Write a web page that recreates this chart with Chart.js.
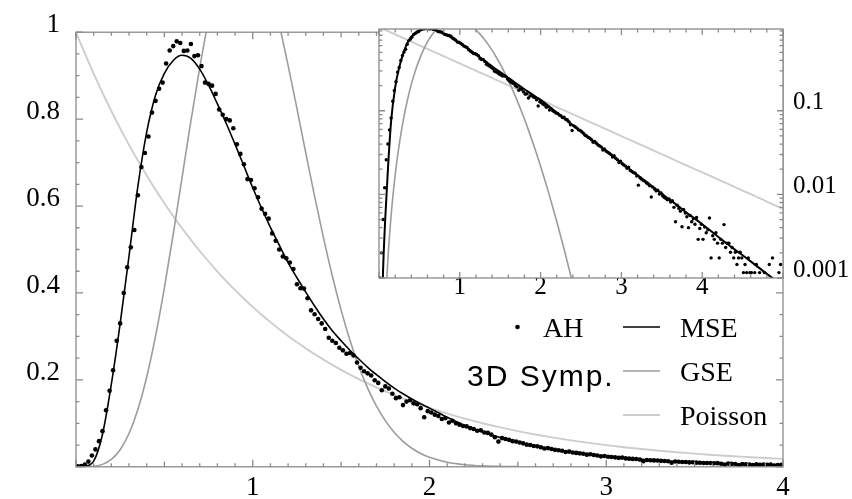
<!DOCTYPE html>
<html>
<head>
<meta charset="utf-8">
<script src="https://cdn.jsdelivr.net/npm/chart.js@4/dist/chart.umd.min.js"></script>
<style>
  html, body { margin: 0; padding: 0; background: #fff; }
  #wrap { position: relative; width: 852px; height: 499px; }
  #wrap canvas { position: absolute; left: 0; top: 0; }
</style>
</head>
<body>
<div id="wrap">
  <canvas id="mainChart" width="852" height="499"></canvas>
  <canvas id="insetChart" width="852" height="499"></canvas>
</div>
<script>
// level spacing s for the smooth curves
const curveX = [0, 0.03, 0.05, 0.1, 0.15, 0.2, 0.25, 0.3, 0.35, 0.4, 0.45, 0.5, 0.55, 0.6, 0.65, 0.7, 0.75, 0.8, 0.85, 0.9, 0.95,
  1.0, 1.05, 1.1, 1.15, 1.2, 1.25, 1.3, 1.35, 1.4, 1.45, 1.5, 1.55, 1.6, 1.65, 1.7, 1.75, 1.8, 1.85, 1.9, 1.95, 2.0,
  2.1, 2.2, 2.3, 2.4, 2.5, 2.6, 2.7, 2.8, 2.9, 3.0, 3.1, 3.2, 3.3, 3.4, 3.5, 3.6, 3.7, 3.8, 3.9, 4.0,
  4.1, 4.2, 4.3, 4.4, 4.5, 4.6, 4.7, 4.8, 4.9, 5.0];

const mseY = [0, 0.0002, 0.0012, 0.013, 0.075, 0.19, 0.33, 0.485, 0.645, 0.77, 0.855, 0.905, 0.935, 0.947, 0.94, 0.915, 0.878, 0.835, 0.79, 0.742, 0.692,
  0.642, 0.595, 0.551, 0.51, 0.47, 0.435, 0.402, 0.37, 0.34, 0.313, 0.29, 0.268, 0.248, 0.229, 0.212, 0.196, 0.181, 0.168, 0.156, 0.145, 0.135,
  0.114, 0.095, 0.08, 0.0672, 0.0565, 0.0475, 0.04, 0.0336, 0.0283, 0.0238, 0.0201, 0.017, 0.0143, 0.0121, 0.0102, 0.0086, 0.0073, 0.0061, 0.0052, 0.0044,
  0.0037, 0.0031, 0.0026, 0.0022, 0.00187, 0.00158, 0.00133, 0.00112, 0.00095, 0.0008];

const gseY = [null, null, 0.000072, 0.00113, 0.00558, 0.01695, 0.03932, 0.07662, 0.13189, 0.20668, 0.3007, 0.41159, 0.53509, 0.66538, 0.79556, 0.91845, 1.02724, 1.1158, 1.17969, 1.21642, 1.22476,
  1.2061, 1.16195, 1.0974, 1.0166, 0.9237, 0.82419, 0.7224, 0.6224, 0.5274, 0.43965, 0.3605, 0.29105, 0.2313, 0.18111, 0.1397, 0.10616, 0.07953, 0.05868, 0.04274, 0.03065, 0.0217,
  0.01042, 0.00474, 0.00205, 0.00084, 0.000325, null, null, null, null, null, null, null, null, null, null, null, null, null, null, null,
  null, null, null, null, null, null, null, null, null, null];

const poissonY = [1, 0.9704, 0.9512, 0.9048, 0.8607, 0.8187, 0.7788, 0.7408, 0.7047, 0.6703, 0.6376, 0.6065, 0.5769, 0.5488, 0.522, 0.4966, 0.4724, 0.4493, 0.4274, 0.4066, 0.3867,
  0.3679, 0.3499, 0.3329, 0.3166, 0.3012, 0.2865, 0.2725, 0.2592, 0.2466, 0.2346, 0.2231, 0.2122, 0.2019, 0.192, 0.1827, 0.1738, 0.1653, 0.1572, 0.1496, 0.1423, 0.1353,
  0.1225, 0.1108, 0.1003, 0.0907, 0.0821, 0.0743, 0.0672, 0.0608, 0.055, 0.0498, 0.045, 0.0408, 0.0369, 0.0334, 0.0302, 0.0273, 0.0247, 0.0224, 0.0202, 0.0183,
  0.0166, 0.015, 0.0136, 0.0123, 0.0111, 0.0101, 0.0091, 0.0082, 0.0074, 0.0067];

// Anderson Hamiltonian histogram (bin centres / heights)
const ahX = [
  0.01, 0.03, 0.05, 0.07, 0.09, 0.11, 0.13, 0.15, 0.17, 0.19,
  0.21, 0.23, 0.25, 0.27, 0.29, 0.31, 0.33, 0.35, 0.37, 0.39,
  0.41, 0.43, 0.45, 0.47, 0.49, 0.51, 0.53, 0.55, 0.57, 0.59,
  0.61, 0.63, 0.65, 0.67, 0.69, 0.71, 0.73, 0.75, 0.77, 0.79,
  0.81, 0.83, 0.85, 0.87, 0.89, 0.91, 0.93, 0.95, 0.97, 0.99,
  1.01, 1.03, 1.05, 1.07, 1.09, 1.11, 1.13, 1.15, 1.17, 1.19,
  1.21, 1.23, 1.25, 1.27, 1.29, 1.31, 1.33, 1.35, 1.37, 1.39,
  1.41, 1.43, 1.45, 1.47, 1.49, 1.51, 1.53, 1.55, 1.57, 1.59,
  1.61, 1.63, 1.65, 1.67, 1.69, 1.71, 1.73, 1.75, 1.77, 1.79,
  1.81, 1.83, 1.85, 1.87, 1.89, 1.91, 1.93, 1.95, 1.97, 1.99,
  2.01, 2.03, 2.05, 2.07, 2.09, 2.11, 2.13, 2.15, 2.17, 2.19,
  2.21, 2.23, 2.25, 2.27, 2.29, 2.31, 2.33, 2.35, 2.37, 2.39,
  2.41, 2.43, 2.45, 2.47, 2.49, 2.51, 2.53, 2.55, 2.57, 2.59,
  2.61, 2.63, 2.65, 2.67, 2.69, 2.71, 2.73, 2.75, 2.77, 2.79,
  2.81, 2.83, 2.85, 2.87, 2.89, 2.91, 2.93, 2.95, 2.97, 2.99,
  3.01, 3.03, 3.05, 3.07, 3.09, 3.11, 3.13, 3.15, 3.17, 3.19,
  3.21, 3.23, 3.25, 3.27, 3.29, 3.31, 3.33, 3.35, 3.37, 3.39,
  3.41, 3.43, 3.45, 3.47, 3.49, 3.51, 3.53, 3.55, 3.57, 3.59,
  3.61, 3.63, 3.65, 3.67, 3.69, 3.71, 3.73, 3.75, 3.77, 3.79,
  3.81, 3.83, 3.85, 3.87, 3.89, 3.91, 3.93, 3.95, 3.97, 3.99,
  4.01, 4.03, 4.05, 4.07, 4.09, 4.11, 4.13, 4.15, 4.17, 4.19,
  4.21, 4.23, 4.25, 4.27, 4.29, 4.31, 4.33, 4.35, 4.37, 4.39,
  4.41, 4.43, 4.45, 4.47, 4.49, 4.51, 4.53, 4.55, 4.57, 4.59,
  4.61, 4.63, 4.65, 4.67, 4.69, 4.71, 4.73, 4.75, 4.77, 4.79,
  4.81, 4.83, 4.85, 4.87, 4.89, 4.91, 4.93, 4.95, 4.97, 4.99];

const ahY = [
  0.001, 0.002, 0.005, 0.012, 0.026, 0.04, 0.059, 0.082, 0.13, 0.175,
  0.222, 0.29, 0.33, 0.40, 0.459, 0.505, 0.545, 0.625, 0.69, 0.722,
  0.76, 0.815, 0.842, 0.87, 0.884, 0.928, 0.958, 0.968, 0.979, 0.975,
  0.957, 0.958, 0.973, 0.945, 0.947, 0.922, 0.884, 0.881, 0.877, 0.858,
  0.822, 0.81, 0.80, 0.797, 0.779, 0.742, 0.72, 0.696, 0.662, 0.66,
  0.641, 0.62, 0.594, 0.582, 0.571, 0.537, 0.52, 0.50, 0.484, 0.48,
  0.47, 0.455, 0.42, 0.411, 0.41, 0.388, 0.36, 0.351, 0.34, 0.33,
  0.317, 0.297, 0.29, 0.285, 0.274, 0.268, 0.26, 0.262, 0.256, 0.24,
  0.228, 0.22, 0.215, 0.21, 0.199, 0.193, 0.176, 0.185, 0.18, 0.168,
  0.158, 0.16, 0.142, 0.15, 0.153, 0.146, 0.144, 0.135, 0.114, 0.128,
  0.125, 0.12, 0.117, 0.11, 0.112, 0.102, 0.106, 0.1, 0.097, 0.094,
  0.093, 0.089, 0.087, 0.083, 0.084, 0.079, 0.078, 0.074, 0.068, 0.058,
  0.066, 0.064, 0.062, 0.059, 0.058, 0.056, 0.054, 0.051, 0.05, 0.048,
  0.047, 0.045, 0.042, 0.043, 0.041, 0.039, 0.038, 0.037, 0.034, 0.035,
  0.033, 0.032, 0.031, 0.030, 0.028, 0.029, 0.027, 0.026, 0.024, 0.025,
  0.0232, 0.0225, 0.0218, 0.0205, 0.0212, 0.0193, 0.0188, 0.0182, 0.0179, 0.0166,
  0.0129, 0.0158, 0.0152, 0.0147, 0.0144, 0.0137, 0.0133, 0.0127, 0.0093, 0.0122,
  0.0116, 0.011, 0.0112, 0.0101, 0.0104, 0.0096, 0.0092, 0.0089, 0.0086, 0.0088,
  0.0081, 0.0084, 0.007, 0.0047, 0.0074, 0.0068, 0.0063, 0.0041, 0.0066, 0.006,
  0.0054, 0.004, 0.0056, 0.0047, 0.0051, 0.0044, 0.0053, 0.0029, 0.0039, 0.0044,
  0.0029, 0.00406, 0.00348, 0.00377, 0.00522, 0.00174, 0.0032, 0.0029, 0.00348, 0.00261,
  0.00174, 0.0029, 0.00261, 0.00435, 0.00232, 0.00261, 0.00261, 0.00203, 0.00232, 0.00174,
  0.00203, 0.00145, 0.00174, 0.00203, 0.00174, 0.00116, 0.00145, 0.00116, 0.00174, 0.00116,
  0.00116, 0.00087, 0.00116, 0.00145, 0.00087, 0.00116, 0.00058, 0.00087, 0.00116, 0.00087,
  0.00058, 0.00145, 0.00087, 0.00174, 0.00058, 0.00087, 0.00058, 0.00116, 0.00145, 0.00087];

const seriesNames = ["AH", "MSE", "GSE", "Poisson"];
const systemLabel = "3D Symp.";

const mainXTicks = [1, 2, 3, 4];
const mainYTicks = [0.2, 0.4, 0.6, 0.8, 1];
const insetXTicks = [1, 2, 3, 4];
const insetYTicks = [0.001, 0.01, 0.1];

const serifFont = "'Liberation Serif', 'Times New Roman', serif";
const frameGray = '#8a8a8a';

const toPts = (xs, ys, logOnly) => xs.map((x, i) => {
  let y = ys[i];
  if (logOnly && !(y > 0)) y = null;
  return { x: x, y: y };
});

// inward tick marks + frame (Mathematica style)
const frameTicks = {
  id: 'frameTicks',
  beforeDraw(chart, args, opts) {
    if (!opts.fillArea) return;
    const a = chart.chartArea;
    chart.ctx.save();
    chart.ctx.fillStyle = '#fff';
    chart.ctx.fillRect(a.left, a.top, a.right - a.left, a.bottom - a.top);
    chart.ctx.restore();
  },
  afterDraw(chart, args, opts) {
    const ctx = chart.ctx, a = chart.chartArea;
    const xs = chart.scales.x, ys = chart.scales.y;
    ctx.save();
    ctx.strokeStyle = frameGray;
    ctx.lineWidth = 1.3;
    ctx.beginPath();
    opts.xMarks.forEach(m => {
      const px = xs.getPixelForValue(m[0]);
      ctx.moveTo(px, a.bottom); ctx.lineTo(px, a.bottom - m[1]);
      ctx.moveTo(px, a.top); ctx.lineTo(px, a.top + m[1]);
    });
    opts.yMarks.forEach(m => {
      const py = ys.getPixelForValue(m[0]);
      ctx.moveTo(a.left, py); ctx.lineTo(a.left + m[1], py);
      ctx.moveTo(a.right, py); ctx.lineTo(a.right - m[1], py);
    });
    ctx.stroke();
    ctx.strokeRect(a.left, a.top, a.right - a.left, a.bottom - a.top);
    ctx.restore();
  }
};

const cornerLegend = {
  id: 'cornerLegend',
  afterDraw(chart) {
    const ctx = chart.ctx, ds = chart.data.datasets;
    ctx.save();
    ctx.fillStyle = '#000';
    ctx.textAlign = 'left';
    ctx.textBaseline = 'alphabetic';
    ctx.font = "28px " + serifFont;
    ctx.beginPath();
    ctx.arc(517.5, 327, 2.3, 0, Math.PI * 2);
    ctx.fill();
    ctx.fillText(ds[0].label, 543, 337);
    [[1, 327, 337], [2, 371, 380.5], [3, 415, 425]].forEach(r => {
      const d = ds[r[0]];
      ctx.strokeStyle = d.borderColor;
      ctx.lineWidth = d.borderWidth;
      ctx.beginPath();
      ctx.moveTo(623, r[1]); ctx.lineTo(660, r[1]);
      ctx.stroke();
      ctx.fillText(d.label, 680, r[2]);
    });
    ctx.font = "30px 'Liberation Sans', Arial, sans-serif";
    ctx.letterSpacing = '2px';
    ctx.fillText(systemLabel, 467, 385.5);
    ctx.letterSpacing = '0px';
    ctx.restore();
  }
};

function lineSet(name, ys, color, width, order, logOnly) {
  return {
    label: name, data: toPts(curveX, ys, logOnly), showLine: true,
    borderColor: color, borderWidth: width, pointRadius: 0,
    cubicInterpolationMode: 'monotone', order: order
  };
}

function buildSets(dotRadius, lineW, logOnly) {
  return [
    { label: seriesNames[0], data: toPts(ahX, ahY, logOnly), pointRadius: dotRadius,
      pointBackgroundColor: '#000', pointBorderWidth: 0, order: 0 },
    lineSet(seriesNames[1], mseY, '#000', lineW, 1, logOnly),
    lineSet(seriesNames[2], gseY, '#9c9c9c', 1.6, 2, logOnly),
    lineSet(seriesNames[3], poissonY, '#cdcdcd', 1.9, 3, logOnly)
  ];
}

const hasTick = (list, v) => list.some(t => Math.abs(t - v) < t * 1e-6);

// tick marks drawn inside the frame
const mainXMarks = [], mainYMarks = [], insetXMarks = [], insetYMarks = [];
for (let i = 0; i <= 40; i++) mainXMarks.push([i / 10, i % 10 === 0 ? 7 : (i % 5 === 0 ? 5 : 3.5)]);
for (let i = 0; i <= 20; i++) mainYMarks.push([i / 20, i % 4 === 0 ? 7 : 3.5]);
for (let i = 0; i <= 25; i++) insetXMarks.push([i / 5, i % 5 === 0 ? 6 : 3.5]);
[0.001, 0.01, 0.1].forEach(d => {
  for (let k = 1; k <= 9; k++) {
    if (k * d <= 0.95) insetYMarks.push([k * d, k === 1 ? 6 : 3.5]);
  }
});

new Chart(document.getElementById('mainChart').getContext('2d'), {
  type: 'scatter',
  data: { datasets: buildSets(2.3, 1.6, false) },
  options: {
    responsive: false,
    animation: false,
    events: [],
    layout: { padding: { left: 0, top: 29, right: 69, bottom: 0 } },
    plugins: {
      legend: { display: false },
      tooltip: { enabled: false },
      frameTicks: { xMarks: mainXMarks, yMarks: mainYMarks, fillArea: false }
    },
    scales: {
      x: {
        type: 'linear', min: 0, max: 4,
        grid: { display: false, drawTicks: false },
        border: { display: false },
        afterFit: s => { s.height = 32; },
        ticks: {
          stepSize: 1, padding: 5, autoSkip: false, maxRotation: 0,
          color: '#000', font: { family: serifFont, size: 27 },
          callback: v => hasTick(mainXTicks, v) ? String(v) : ''
        }
      },
      y: {
        type: 'linear', min: 0, max: 1,
        grid: { display: false, drawTicks: false },
        border: { display: false },
        afterFit: s => { s.width = 76; },
        ticks: {
          stepSize: 0.2, padding: 16, labelOffset: -7, autoSkip: false,
          color: '#000', font: { family: serifFont, size: 27 },
          callback: v => hasTick(mainYTicks, v) ? (Math.abs(v - 1) < 1e-9 ? '1' : v.toFixed(1)) : ''
        }
      }
    }
  },
  plugins: [frameTicks, cornerLegend]
});

new Chart(document.getElementById('insetChart').getContext('2d'), {
  type: 'scatter',
  data: { datasets: buildSets(1.7, 2, true) },
  options: {
    responsive: false,
    animation: false,
    events: [],
    layout: { padding: { left: 379, top: 29, right: 0, bottom: 191 } },
    plugins: {
      legend: { display: false },
      tooltip: { enabled: false },
      frameTicks: { xMarks: insetXMarks, yMarks: insetYMarks, fillArea: true }
    },
    scales: {
      x: {
        type: 'linear', min: 0, max: 5,
        grid: { display: false, drawTicks: false },
        border: { display: false },
        afterFit: s => { s.height = 30; },
        ticks: {
          stepSize: 1, padding: -3, autoSkip: false, maxRotation: 0,
          color: '#000', font: { family: serifFont, size: 25, lineHeight: 1 },
          callback: v => hasTick(insetXTicks, v) ? String(v) : ''
        }
      },
      y: {
        type: 'logarithmic', position: 'right', min: 0.001, max: 0.95,
        grid: { display: false, drawTicks: false },
        border: { display: false },
        afterFit: s => { s.width = 69; },
        ticks: {
          padding: 10, labelOffset: -8, autoSkip: false,
          color: '#000', font: { family: serifFont, size: 25 },
          callback: v => hasTick(insetYTicks, v) ? String(v) : ''
        }
      }
    }
  },
  plugins: [frameTicks]
});
</script>
</body>
</html>
